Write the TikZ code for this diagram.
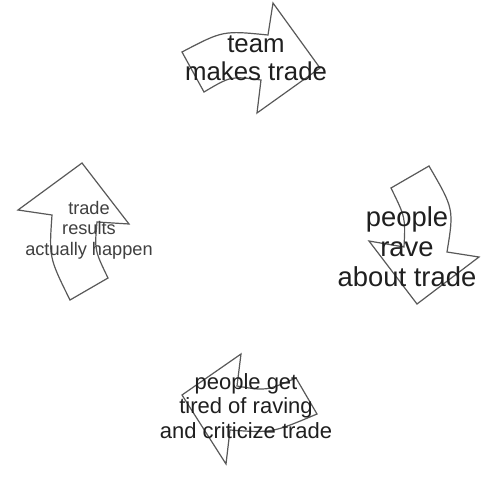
\documentclass[tikz,border=0pt]{standalone}
\usepackage{fontspec}
\setmainfont{Liberation Sans}
\begin{document}
\begin{tikzpicture}[x=0.5pt,y=-0.5pt,
  arrowshape/.style={draw=black!65,line width=0.6pt,line join=miter,fill=white},
  lbl/.style={align=center,text=black!88,inner sep=0pt}]
\useasboundingbox[fill=white] (0,0) rectangle (491,500);
% top arrow
\draw[arrowshape] (182,52) .. controls (223,30.5) .. (268,35) -- (273,3) -- (320,68) -- (257,113) -- (261,80)
  .. controls (231,76) .. (204,92) -- cycle;
% right arrow
\draw[arrowshape] (391,188) -- (429,166) .. controls (454,209) .. (447,252) -- (479,257) -- (417,304) -- (369,241) -- (404,247)
  .. controls (405.5,217.5) .. (391,188) -- cycle;
% bottom arrow
\draw[arrowshape] (182,395) -- (241,354) -- (237,386) .. controls (266,391) .. (296,378) -- (317,414)
  .. controls (272,433) .. (230,430) -- (226,464) -- cycle;
% left arrow
\draw[arrowshape] (18,210) -- (82,163) -- (129,224) -- (97,222) .. controls (94.5,250) .. (108,278) -- (70,300)
  .. controls (49,257.5) .. (52,215) -- cycle;
\node[lbl,font=\fontsize{12.9}{14.2}\selectfont] (t1) at (256,58) {team\\makes trade};
\node[lbl,font=\fontsize{13.7}{15}\selectfont] (t2) at (407,247) {people\\rave\\about trade};
\node[lbl,font=\fontsize{11}{12.3}\selectfont] (t3) at (246,406) {people get\\tired of raving\\and criticize trade};
\node[lbl,font=\fontsize{9.1}{10.3}\selectfont,text=black!75] (t4) at (89,230) {trade\\results\\actually happen};
\end{tikzpicture}
\end{document}
